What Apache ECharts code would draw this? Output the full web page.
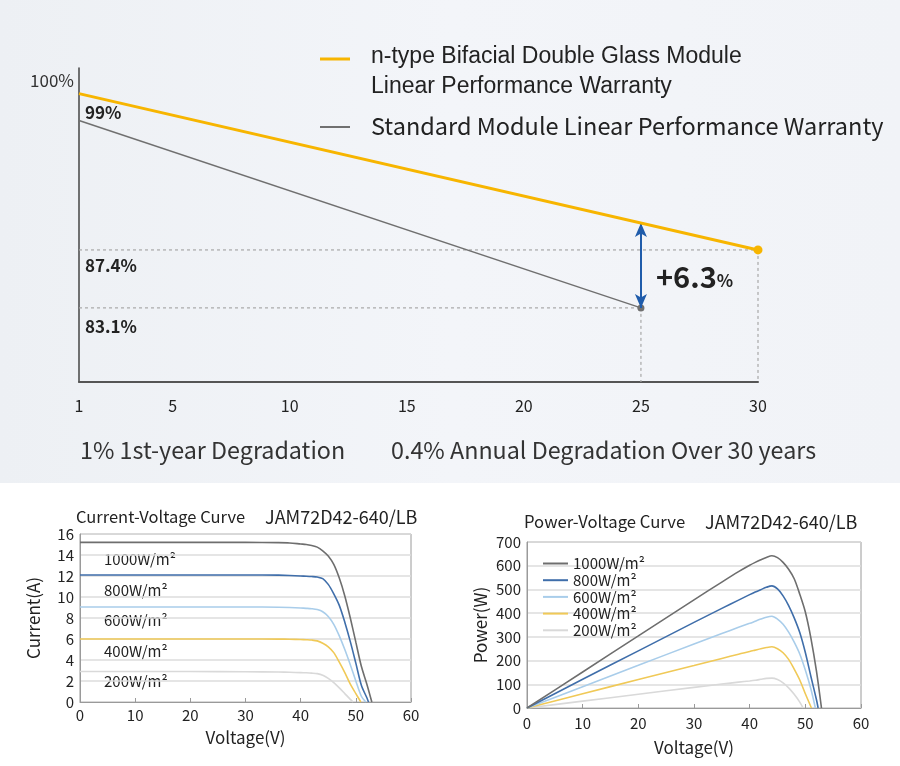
<!DOCTYPE html>
<html><head><meta charset="utf-8">
<script src="https://cdn.jsdelivr.net/npm/echarts@6/dist/echarts.min.js"></script>
<style>html,body{margin:0;padding:0;background:#fff}#c{width:900px;height:766px}</style>
</head><body><div id="c"></div>
<script>
// ---- Top: warranty chart data ----
const warrantyYears = [1, 30];
const nTypeValues = [99, 87.4];
const stdYears = [1, 25];
const stdValues = [97, 83.1];
const yearTicks = [1, 5, 10, 15, 20, 25, 30];
const gainLabel = '+6.3';
const yellowAt25 = 89.4;

// ---- Bottom: I-V curves ----
const irradiance = ['1000W/m²', '800W/m²', '600W/m²', '400W/m²', '200W/m²'];
const colors = ['#6e6e6e', '#3f6eaa', '#a9cdea', '#f0c957', '#d9d9d9'];
const ivV1000 = [0, 10, 20, 30, 36, 38, 40, 41, 42, 43, 44, 45, 46, 47, 48, 49, 50, 51, 52, 52.9];
const ivI1000 = [15.2, 15.2, 15.2, 15.2, 15.18, 15.15, 15.05, 15.0, 14.9, 14.75, 14.4, 13.9, 13.1, 11.8, 10.1, 8.0, 5.7, 3.4, 1.7, 0];
const ivV800 = [0, 10, 20, 30, 36, 38, 40, 41, 42, 43, 44, 45, 46, 47, 48, 49, 50, 51, 52, 52.3];
const ivI800 = [12.1, 12.1, 12.1, 12.1, 12.08, 12.05, 12.0, 11.98, 11.95, 11.9, 11.75, 11.2, 10.3, 9.2, 7.6, 5.75, 3.7, 1.6, 0.4, 0];
const ivV600 = [0, 10, 20, 30, 36, 38, 40, 41, 42, 43, 44, 45, 46, 47, 48, 49, 50, 51, 51.8];
const ivI600 = [9.05, 9.05, 9.05, 9.05, 9.03, 9.0, 8.95, 8.92, 8.88, 8.8, 8.6, 8.15, 7.4, 6.3, 5.0, 3.55, 2.0, 0.55, 0];
const ivV400 = [0, 10, 20, 30, 36, 38, 40, 41, 42, 43, 44, 45, 46, 47, 48, 49, 50, 50.9];
const ivI400 = [6.0, 6.0, 6.0, 6.0, 5.99, 5.98, 5.95, 5.93, 5.9, 5.82, 5.6, 5.25, 4.7, 3.8, 2.8, 1.7, 0.8, 0];
const ivV200 = [0, 10, 20, 30, 36, 38, 40, 41, 42, 43, 44, 45, 46, 47, 48, 49, 49.5];
const ivI200 = [2.9, 2.9, 2.9, 2.88, 2.85, 2.83, 2.8, 2.78, 2.75, 2.7, 2.55, 2.25, 1.85, 1.35, 0.8, 0.25, 0];

// ---- Bottom: P-V curves ----
const pvV1000 = [0, 10, 20, 30, 35, 38, 40, 41, 42, 43, 44, 45, 46, 47, 48, 49, 50, 51, 52, 52.9];
const pvP1000 = [0, 152, 304, 456, 531, 575, 602, 614, 625, 635, 642, 634, 614, 585, 545, 480, 405, 295, 155, 0];
const pvV800 = [0, 10, 20, 30, 35, 38, 40, 41, 42, 43, 44, 45, 46, 47, 48, 49, 50, 51, 52, 52.3];
const pvP800 = [0, 121, 241, 361, 420, 455, 478, 489, 499, 509, 515, 502, 473, 432, 380, 318, 234, 133, 35, 0];
const pvV600 = [0, 10, 20, 30, 35, 38, 40, 41, 42, 43, 44, 45, 46, 47, 48, 49, 50, 51, 51.8];
const pvP600 = [0, 90, 180, 270, 314, 340, 357, 366, 375, 383, 387, 375, 353, 320, 278, 228, 160, 80, 0];
const pvV400 = [0, 10, 20, 30, 35, 38, 40, 41, 42, 43, 44, 45, 46, 47, 48, 49, 50, 51.1];
const pvP400 = [0, 60, 120, 179, 209, 227, 238, 244, 250, 255, 258, 250, 233, 205, 164, 118, 60, 0];
const pvV200 = [0, 10, 20, 30, 35, 38, 40, 41, 42, 43, 44, 45, 46, 47, 48, 49, 49.6];
const pvP200 = [0, 29, 58, 87, 101, 109, 114, 117, 121, 125, 126, 120, 106, 85, 58, 25, 0];

const zip = (a, b) => a.map((v, i) => [v, b[i]]);
const ivSets = [[ivV1000, ivI1000], [ivV800, ivI800], [ivV600, ivI600], [ivV400, ivI400], [ivV200, ivI200]];
const pvSets = [[pvV1000, pvP1000], [pvV800, pvP800], [pvV600, pvP600], [pvV400, pvP400], [pvV200, pvP200]];

const F = '"Noto Sans CJK SC", "Noto Sans", sans-serif';
const yMin = 77.6, yMax = 100.9;

const chart = echarts.init(document.getElementById('c'));

const series = [];
series.push({
  type: 'line', xAxisIndex: 0, yAxisIndex: 0, silent: true, z: 5,
  data: zip(warrantyYears, nTypeValues).map((p, i) => ({ value: p, symbol: i === 1 ? 'circle' : 'none' })),
  symbolSize: 9, itemStyle: { color: '#f7b500' },
  lineStyle: { color: '#f7b500', width: 3 }
});
series.push({
  type: 'line', xAxisIndex: 0, yAxisIndex: 0, silent: true, z: 4,
  data: zip(stdYears, stdValues).map((p, i) => ({ value: p, symbol: i === 1 ? 'circle' : 'none' })),
  symbolSize: 7, itemStyle: { color: '#707070' },
  lineStyle: { color: '#707070', width: 1.5 },
  markLine: {
    silent: true, symbol: ['arrow', 'arrow'], symbolSize: [9, 14],
    lineStyle: { color: '#1f5cab', width: 2, type: 'solid' },
    label: { show: false },
    data: [[{ coord: [stdYears[1], stdValues[1]] }, { coord: [stdYears[1], yellowAt25] }]]
  }
});
const dotted = { color: '#a8a8a8', width: 1.2, type: [3, 3] };
[
  [[warrantyYears[0], nTypeValues[1]], [warrantyYears[1], nTypeValues[1]]],
  [[warrantyYears[1], nTypeValues[1]], [warrantyYears[1], yMin]],
  [[stdYears[0], stdValues[1]], [stdYears[1], stdValues[1]]],
  [[stdYears[1], stdValues[1]], [stdYears[1], yMin]]
].forEach(d => series.push({
  type: 'line', xAxisIndex: 0, yAxisIndex: 0, silent: true, symbol: 'none', z: 2,
  data: d, lineStyle: dotted
}));

ivSets.forEach((s, i) => series.push({
  name: irradiance[i], type: 'line', xAxisIndex: 1, yAxisIndex: 1, symbol: 'none',
  smooth: 0.3, data: zip(s[0], s[1]),
  lineStyle: { color: colors[i], width: 1.6 }, itemStyle: { color: colors[i] }, z: 10 - i
}));
pvSets.forEach((s, i) => series.push({
  name: irradiance[i], type: 'line', xAxisIndex: 2, yAxisIndex: 2, symbol: 'none',
  smooth: 0.3, data: zip(s[0], s[1]),
  lineStyle: { color: colors[i], width: 1.6 }, itemStyle: { color: colors[i] }, z: 10 - i
}));

const axLabel = { fontFamily: F, fontSize: 15, color: '#222' };
const nameStyle = { fontFamily: F, fontSize: 17, color: '#222' };

const txt = (x, y, text, size, opts = {}) => ({
  type: 'text', x, y, silent: true,
  style: Object.assign({ text, fontFamily: F, fontSize: size, fill: '#222', verticalAlign: 'middle' }, opts)
});

const option = {
  animation: false,
  backgroundColor: '#ffffff',
  grid: [
    { left: 79, top: 68, width: 679, height: 314 },
    { left: 80, top: 534, width: 331, height: 168, show: true, borderColor: '#9a9a9a', borderWidth: 1 },
    { left: 527, top: 542, width: 334, height: 166, show: true, borderColor: '#9a9a9a', borderWidth: 1 }
  ],
  xAxis: [
    { gridIndex: 0, type: 'value', min: 1, max: 30,
      axisLine: { show: true, onZero: false, lineStyle: { color: '#555', width: 2 } },
      axisTick: { show: false }, splitLine: { show: false },
      axisLabel: { customValues: yearTicks, fontFamily: F, fontSize: 16, color: '#222', margin: 16 } },
    { gridIndex: 1, type: 'value', min: 0, max: 60, interval: 10,
      axisLine: { show: true, onZero: false, lineStyle: { color: '#9a9a9a' } },
      axisTick: { show: true, inside: true, length: 4, lineStyle: { color: '#9a9a9a' } },
      splitLine: { show: false }, axisLabel: Object.assign({ margin: 6 }, axLabel),
      name: 'Voltage(V)', nameLocation: 'middle', nameGap: 27, nameTextStyle: nameStyle },
    { gridIndex: 2, type: 'value', min: 0, max: 60, interval: 10,
      axisLine: { show: true, onZero: false, lineStyle: { color: '#9a9a9a' } },
      axisTick: { show: true, inside: true, length: 4, lineStyle: { color: '#9a9a9a' } },
      splitLine: { show: false }, axisLabel: Object.assign({ margin: 8 }, axLabel),
      name: 'Voltage(V)', nameLocation: 'middle', nameGap: 31, nameTextStyle: nameStyle }
  ],
  yAxis: [
    { gridIndex: 0, type: 'value', min: yMin, max: yMax,
      axisLine: { show: true, lineStyle: { color: '#444', width: 1.5 } },
      axisTick: { show: false }, splitLine: { show: false },
      axisLabel: { customValues: [100], formatter: '{value}%', fontFamily: F, fontSize: 17, color: '#333', margin: 5 } },
    { gridIndex: 1, type: 'value', min: 0, max: 16, interval: 2,
      axisLine: { show: true, lineStyle: { color: '#9a9a9a' } }, axisTick: { show: false },
      splitLine: { show: true, lineStyle: { color: '#dcdcdc', width: 1.5 } },
      axisLabel: Object.assign({ margin: 6 }, axLabel),
      name: 'Current(A)', nameLocation: 'middle', nameGap: 38, nameTextStyle: nameStyle },
    { gridIndex: 2, type: 'value', min: 0, max: 700, interval: 100,
      axisLine: { show: true, lineStyle: { color: '#9a9a9a' } }, axisTick: { show: false },
      splitLine: { show: true, lineStyle: { color: '#dcdcdc', width: 1.5 } },
      axisLabel: Object.assign({ margin: 6 }, axLabel),
      name: 'Power(W)', nameLocation: 'middle', nameGap: 38, nameTextStyle: nameStyle }
  ],
  legend: {
    left: 538, top: 551, orient: 'vertical', itemGap: 1.7, itemWidth: 25, itemHeight: 2,
    icon: 'rect', selectedMode: false,
    textStyle: { fontFamily: F, fontSize: 15, color: '#222' },
    data: irradiance
  },
  graphic: [
    { type: 'rect', z: -10, silent: true, shape: { x: 0, y: 0, width: 900, height: 483 },
      style: { fill: new echarts.graphic.LinearGradient(0, 0, 1, 0, [
        { offset: 0, color: '#edf0f4' }, { offset: 0.5, color: '#f3f5f9' }, { offset: 1, color: '#f1f3f7' }]) } },
    { type: 'line', silent: true, shape: { x1: 320, y1: 59, x2: 350, y2: 59 }, style: { stroke: '#f7b500', lineWidth: 3 } },
    { type: 'line', silent: true, shape: { x1: 320, y1: 127, x2: 350, y2: 127 }, style: { stroke: '#707070', lineWidth: 2 } },
    txt(371, 57, 'n-type Bifacial Double Glass Module', 23, { fontFamily: '"Liberation Sans", Arial, sans-serif' }),
    txt(371, 87, 'Linear Performance Warranty', 23, { fontFamily: '"Liberation Sans", Arial, sans-serif' }),
    txt(371, 126, 'Standard Module Linear Performance Warranty', 23.5),
    txt(85, 113, '99%', 17, { fontWeight: 'bold' }),
    txt(85, 266, '87.4%', 17, { fontWeight: 'bold' }),
    txt(85, 327, '83.1%', 17, { fontWeight: 'bold' }),
    { type: 'text', x: 656, y: 277, silent: true, style: {
        text: '{a|' + gainLabel + '}{b|%}', verticalAlign: 'middle',
        rich: { a: { fontFamily: F, fontSize: 29, fontWeight: 'bold', fill: '#222', verticalAlign: 'bottom' },
                b: { fontFamily: F, fontSize: 17, fontWeight: 'bold', fill: '#222', verticalAlign: 'bottom', padding: [0, 0, 2, 0] } } } },
    txt(80, 450, '1% 1st-year Degradation', 23.3, { fill: '#333' }),
    txt(391, 450, '0.4% Annual Degradation Over 30 years', 23.3, { fill: '#333' }),
    txt(76, 517, 'Current-Voltage Curve', 16.5),
    txt(265, 517, 'JAM72D42-640/LB', 18),
    txt(524, 522, 'Power-Voltage Curve', 16.7),
    txt(705, 522, 'JAM72D42-640/LB', 18),
    txt(104, 559, irradiance[0], 15),
    txt(104, 590, irradiance[1], 15),
    txt(104, 620, irradiance[2], 15),
    txt(104, 651, irradiance[3], 15),
    txt(104, 681, irradiance[4], 15)
  ],
  series
};
chart.setOption(option);
</script></body></html>
